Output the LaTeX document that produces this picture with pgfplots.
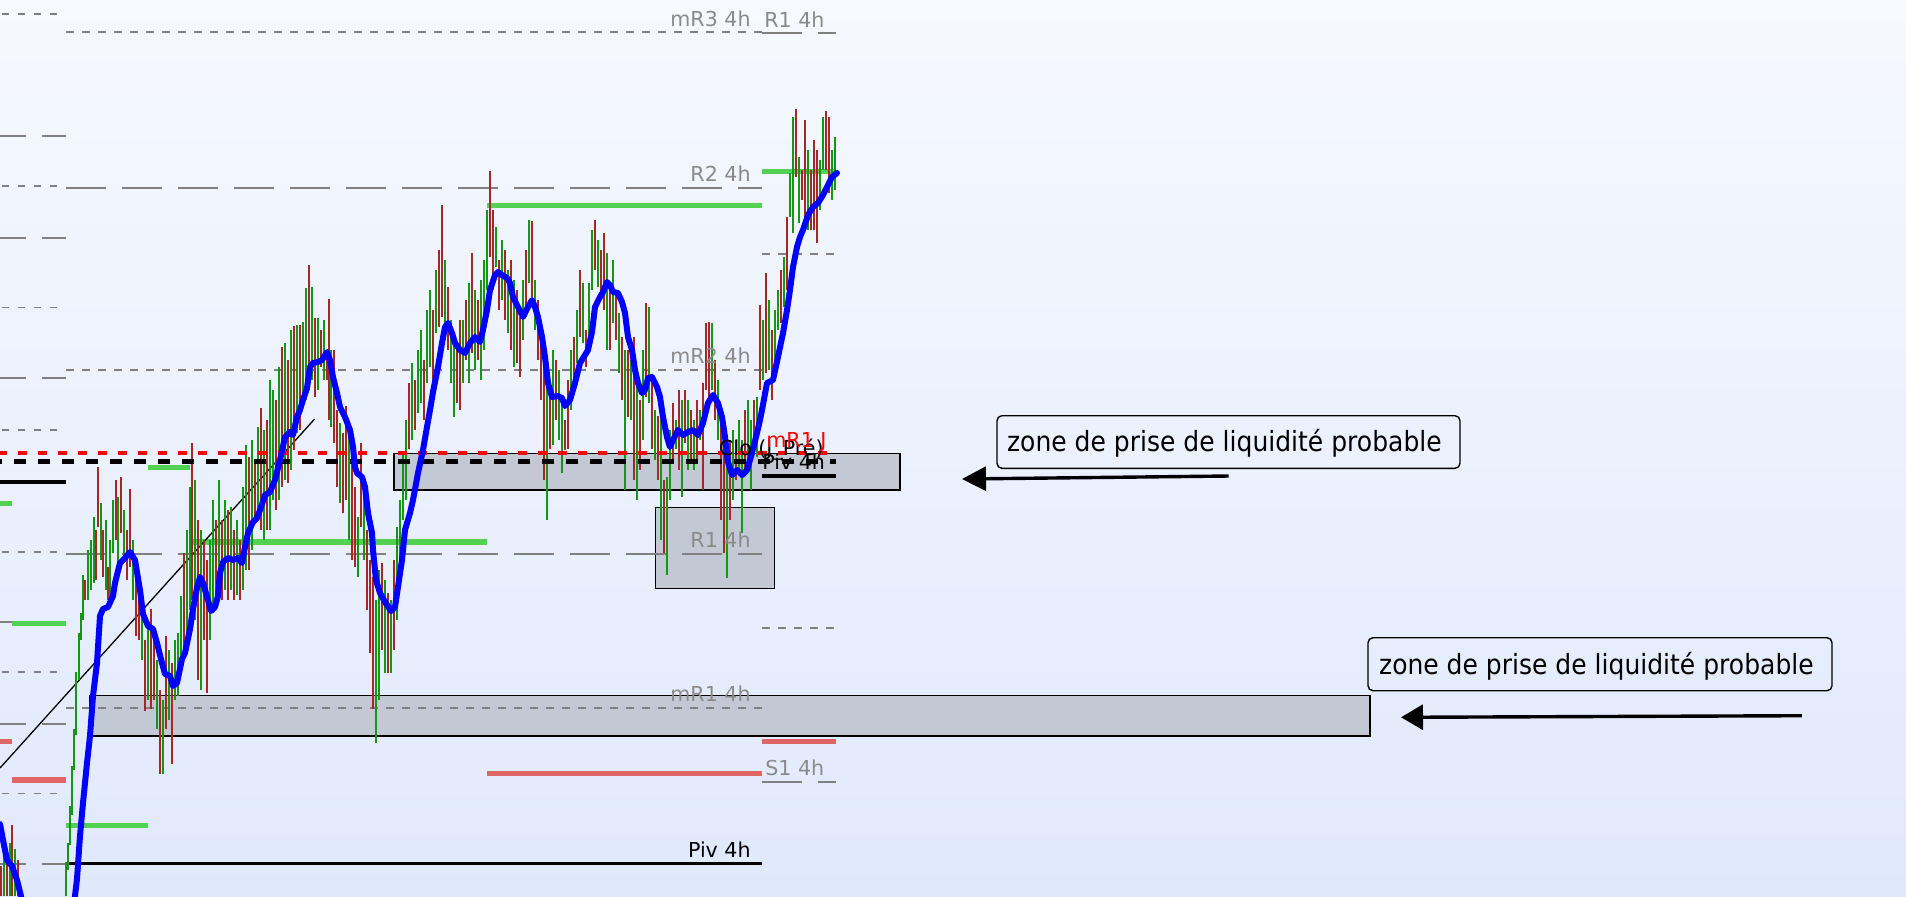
\documentclass[border=0pt]{standalone}
\usepackage{pgfplots}
\pgfplotsset{compat=1.18}
\usepackage{pgfplotstable}
\usepackage{fontspec}
\setmainfont{DejaVu Sans}
\newfontfamily\callfont[FakeStretch=0.9]{DejaVu Sans}
\usetikzlibrary{arrows.meta}
\definecolor{bgtop}{RGB}{246,249,254}
\definecolor{bgbot}{RGB}{224,233,252}
\definecolor{lvgray}{RGB}{128,128,128}
\definecolor{txgray}{RGB}{138,138,138}
\definecolor{lvgreen}{RGB}{82,210,82}
\definecolor{lvred}{RGB}{224,102,102}
\definecolor{cgreen}{RGB}{22,150,22}
\definecolor{cred}{RGB}{165,40,40}
\definecolor{boxgray}{RGB}{195,200,213}

\pgfplotstableread{
x t b
4 845 896
10 843 896
15 849 896
66 862 896
68 843 870
70 806 845
72 766 815
74 729 770
76 672 735
79 633 680
81 613 640
83 575 620
88 550 600
91 540 590
94 517 583
101 503 560
106 520 590
110 540 600
113 500 553
118 497 577
124 510 560
133 540 600
142 590 660
148 620 700
157 660 729
163 700 774
169 650 720
175 640 700
178 633 696
181 596 673
187 530 640
190 487 610
195 480 620
201 530 690
210 540 640
213 500 610
219 480 590
225 500 590
231 507 590
237 520 595
243 487 590
246 445 570
252 440 550
258 427 520
264 430 540
270 380 530
273 390 500
279 367 500
285 343 480
291 330 470
297 325 433
303 322 407
306 288 400
312 287 380
318 318 390
324 320 380
331 350 427
340 423 503
349 430 540
358 517 577
364 480 560
376 600 743
379 570 700
385 580 673
391 600 673
397 527 620
400 500 580
403 453 520
406 420 500
412 363 440
418 350 413
421 330 403
427 310 383
430 290 367
436 270 333
445 260 340
451 320 383
454 337 417
463 320 383
469 283 383
475 290 370
481 280 380
484 260 350
487 210 290
496 227 267
502 240 300
508 270 333
514 280 367
523 280 340
529 220 283
535 280 330
547 370 520
553 350 445
559 370 440
562 400 473
571 350 410
577 310 363
583 283 343
589 283 337
592 230 290
598 240 287
607 253 350
613 260 323
619 313 373
625 350 490
631 360 420
637 380 500
643 350 440
649 307 403
655 410 460
661 420 540
667 477 575
670 430 500
676 420 449
682 400 497
688 400 470
694 420 470
700 410 440
712 323 390
718 380 440
727 460 578
733 430 500
739 420 470
742 440 533
748 400 460
751 420 490
757 397 457
763 320 380
769 300 370
775 310 360
778 290 330
784 257 307
790 173 217
793 117 233
799 157 223
808 150 230
820 160 210
823 117 170
832 150 200
835 137 190
}\greentab

\pgfplotstableread{
x t b
1 866 896
7 850 896
12 825 896
18 860 896
85 580 600
96 530 580
98 467 527
103 530 577
108 567 600
116 480 540
121 477 533
127 530 580
130 489 567
136 560 636
139 580 640
145 640 711
151 609 709
154 640 700
160 690 774
166 636 729
172 663 764
184 553 660
192 443 600
198 520 680
204 540 640
207 560 693
216 520 600
222 520 600
228 510 600
234 530 600
240 540 600
249 457 570
255 460 517
261 408 530
267 420 530
276 400 510
282 347 487
288 360 483
294 326 450
300 325 430
309 265 390
315 318 397
321 330 367
327 350 380
329 299 420
334 350 443
337 410 487
343 433 513
346 406 500
352 460 560
355 487 567
361 443 527
367 530 610
370 560 653
373 577 709
382 563 650
388 593 673
394 560 650
409 383 449
415 380 430
424 360 420
433 310 380
439 250 327
442 205 317
448 287 350
457 350 403
460 320 410
466 300 360
472 253 353
478 300 360
490 171 257
493 210 290
499 260 310
505 250 320
511 260 350
517 290 363
520 317 377
526 250 317
532 221 297
538 300 360
541 330 400
544 350 480
550 393 449
556 360 420
565 420 450
568 380 449
574 337 383
580 270 337
586 330 367
595 220 270
601 250 300
604 233 310
610 290 350
616 290 340
622 337 400
628 350 417
634 337 480
640 400 470
646 303 397
652 380 449
658 416 480
664 480 553
673 403 460
679 390 470
685 390 443
691 410 460
697 400 460
703 383 490
706 323 390
709 322 397
715 360 420
721 420 520
724 440 553
730 440 520
736 440 480
745 410 470
754 400 450
760 305 390
766 273 373
772 330 400
781 270 323
787 217 290
796 109 177
802 170 200
805 120 227
811 170 230
814 140 230
817 150 243
826 111 170
829 117 193
}\redtab

\begin{document}
\begin{tikzpicture}
\begin{axis}[
  width=953pt, height=448pt, scale only axis,
  xmin=0, xmax=1906, ymin=0, ymax=896, y dir=reverse,
  hide axis, clip=true,
  lv/.style={forget plot, line cap=butt, mark=none},
]
\shade[top color=bgtop, bottom color=bgbot] (axis cs:0,0) rectangle (axis cs:1906,896);

% zone boxes
\addplot[lv, fill=boxgray, draw=black, line width=0.7pt] coordinates {(394,453.3) (900,453.3) (900,490) (394,490)} -- cycle;
\addplot[lv, fill=boxgray, draw=black, line width=0.7pt] coordinates {(655.3,507.7) (774.3,507.7) (774.3,588.3) (655.3,588.3)} -- cycle;
\addplot[lv, fill=boxgray, draw=black, line width=0.7pt] coordinates {(90,695.3) (1370,695.3) (1370,736) (90,736)} -- cycle;

% left column gray levels
\foreach \yy in {14,186,307.5,430,552,672,793.5} {
  \addplot[lv, lvgray, line width=0.9pt, dash pattern=on 3.5pt off 4.5pt] coordinates {(2,\yy) (58,\yy)};
}
\foreach \yy in {136,238,378,622,724,864} {
  \addplot[lv, lvgray, line width=0.9pt, dash pattern=on 13pt off 8pt] coordinates {(0,\yy) (66,\yy)};
}
% main gray levels
\foreach \yy in {31.7,370,708} {
  \addplot[lv, lvgray, line width=1pt, dash pattern=on 4pt off 4pt] coordinates {(66,\yy) (762,\yy)};
}
\foreach \yy in {187.7,554} {
  \addplot[lv, lvgray, line width=1pt, dash pattern=on 20pt off 8pt] coordinates {(66,\yy) (762,\yy)};
}
\foreach \yy in {254,628} {
  \addplot[lv, lvgray, line width=1pt, dash pattern=on 4pt off 4pt] coordinates {(762,\yy) (836,\yy)};
}
\foreach \yy in {33.3,781.7} {
  \addplot[lv, lvgray, line width=1pt, dash pattern=on 20pt off 8pt] coordinates {(762,\yy) (836,\yy)};
}

% green levels
\addplot[lv, lvgreen, line width=2.6pt] coordinates {(0,503.7) (12,503.7)};
\addplot[lv, lvgreen, line width=2.6pt] coordinates {(12,623.7) (66,623.7)};
\addplot[lv, lvgreen, line width=2.6pt] coordinates {(66,825.7) (148,825.7)};
\addplot[lv, lvgreen, line width=2.6pt] coordinates {(148,467.7) (190,467.7)};
\addplot[lv, lvgreen, line width=2.6pt] coordinates {(190,542) (487,542)};
\addplot[lv, lvgreen, line width=2.6pt] coordinates {(487,205.7) (762,205.7)};
\addplot[lv, lvgreen, line width=2.6pt] coordinates {(762,171.7) (836,171.7)};
% red levels
\addplot[lv, lvred, line width=2.6pt] coordinates {(0,741.7) (12,741.7)};
\addplot[lv, lvred, line width=2.6pt] coordinates {(12,780) (66,780)};
\addplot[lv, lvred, line width=2.6pt] coordinates {(487,773.3) (762,773.3)};
\addplot[lv, lvred, line width=2.6pt] coordinates {(762,741.7) (836,741.7)};
% black pivots
\addplot[lv, black, line width=1.8pt] coordinates {(0,481.7) (66,481.7)};
\addplot[lv, black, line width=1.7pt] coordinates {(66,863.7) (762,863.7)};
\addplot[lv, black, line width=1.7pt] coordinates {(762,476) (836,476)};

% trend line
\addplot[lv, black, line width=0.65pt] coordinates {(0,768) (314.6,419)};

% candles
\addplot[forget plot, draw=none, mark=none,
  error bars/.cd, y dir=plus, y explicit, error mark=none,
  error bar style={draw=cgreen, line width=1.35pt, solid, line cap=butt}]
  table[x=x, y=t, y error expr=\thisrow{b}-\thisrow{t}] {\greentab};
\addplot[forget plot, draw=none, mark=none,
  error bars/.cd, y dir=plus, y explicit, error mark=none,
  error bar style={draw=cred, line width=1.35pt, solid, line cap=butt}]
  table[x=x, y=t, y error expr=\thisrow{b}-\thisrow{t}] {\redtab};

% daily levels over everything
\addplot[lv, red, line width=2pt, dash pattern=on 4.5pt off 5.5pt, dash phase=0.8pt] coordinates {(0,453.3) (828,453.3)};
\addplot[lv, black, line width=2.5pt, dash pattern=on 6pt off 6pt, dash phase=5pt] coordinates {(0,461.7) (836,461.7)};

% moving average
\addplot[lv, blue, line width=3pt, line join=round, line cap=round] coordinates {
(0,824) (3,840) (7,860) (12,866) (17,880) (21,896) (23,910)};
\addplot[lv, blue, line width=3pt, line join=round, line cap=round] coordinates {
(74,910) (75,896) (77,879) (80,836) (83,803) (87,763) (90,736) (93,696) (97,663) (100,616)
(103,609) (108,607) (113,596) (115,583) (120,563) (125,558) (130,552) (135,560) (140,590)
(143,614) (148,626) (153,629) (157,643) (162,663) (165,674) (170,676) (173,686) (177,683)
(182,659) (185,653) (190,629) (193,609) (197,588) (200,577) (203,583) (208,600) (211,611)
(215,607) (218,596) (220,573) (223,562) (228,558) (233,560) (238,558) (242,563) (245,547)
(248,533) (253,522) (257,518) (260,510) (265,495) (270,492) (275,480) (280,460) (285,437)
(290,432) (293,435) (297,417) (300,410) (303,400) (307,388) (310,367) (313,363) (318,362)
(322,360) (327,352) (330,360) (333,377) (337,393) (340,407) (345,417) (350,430) (353,447)
(355,467) (357,473) (362,477) (365,487) (368,513) (372,533) (373,550) (376,580) (380,593)
(385,602) (391,611) (395,607) (398,587) (402,560) (405,530) (410,513) (413,500) (418,473)
(423,450) (427,427) (430,410) (433,392) (438,367) (442,343) (445,327) (448,323) (452,333)
(455,343) (460,350) (465,353) (470,343) (475,337) (480,342) (483,330) (487,310) (490,290)
(495,275) (498,272) (502,275) (507,278) (510,283) (513,297) (518,307) (523,317) (528,307)
(532,300) (535,307) (538,317) (542,337) (545,357) (548,383) (552,397) (558,396) (562,398)
(565,406) (570,400) (575,383) (580,363) (585,355) (588,350) (592,332) (595,307) (600,297)
(603,292) (607,282) (610,285) (613,292) (618,293) (622,302) (625,313) (628,337) (632,350)
(635,370) (638,383) (642,393) (645,390) (648,378) (652,377) (657,387) (660,397) (663,417)
(667,437) (670,447) (673,440) (678,430) (683,435) (688,432) (693,430) (698,435) (703,423)
(708,403) (713,395) (718,403) (722,417) (725,437) (728,462) (732,475) (737,470) (742,475)
(747,470) (752,453) (757,433) (760,420) (762,410) (767,383) (773,380) (778,357) (783,333)
(787,310) (790,290) (793,267) (797,247) (800,237) (803,230) (808,215) (813,207) (818,203)
(823,195) (827,187) (832,177) (837,173)};

% labels
\begin{scope}[every node/.style={inner sep=0pt, font=\fontsize{10.3}{12}\selectfont}]
\node[anchor=base east, text=txgray] at (axis cs:751,26.7) {mR3 4h};
\node[anchor=base west, text=txgray] at (axis cs:764,27.3) {R1 4h};
\node[anchor=base east, text=txgray] at (axis cs:751,181.7) {R2 4h};
\node[anchor=base east, text=txgray] at (axis cs:751,363.3) {mR2 4h};
\node[anchor=base east, text=txgray] at (axis cs:751,547.7) {R1 4h};
\node[anchor=base east, text=txgray] at (axis cs:751,701.7) {mR1 4h};
\node[anchor=base west, text=txgray] at (axis cs:765,775) {S1 4h};
\node[anchor=base east, text=black] at (axis cs:751,857.3) {Piv 4h};
\node[anchor=base west, text=black] at (axis cs:762,469) {Piv 4h};
\node[anchor=base east, text=black] at (axis cs:824,455) {Clo (J\_Pré)};
\node[anchor=base west, text=red] at (axis cs:766,447.5) {mR1 J};
\end{scope}

% callouts
\draw[black, line width=0.7pt, rounded corners=2.5pt] (axis cs:997,415.7) rectangle (axis cs:1460,468.3);
\node[anchor=base west, inner sep=0pt, font=\callfont\fontsize{13.9}{16}\selectfont] at (axis cs:1006.7,451.7) {zone de prise de liquidité probable};
\draw[black, line width=1.7pt, -{Triangle[length=12pt,width=12pt]}] (axis cs:1228.6,476) -- (axis cs:962,479);
\draw[black, line width=0.7pt, rounded corners=2.5pt] (axis cs:1368,637.7) rectangle (axis cs:1832,690.7);
\node[anchor=base west, inner sep=0pt, font=\callfont\fontsize{13.9}{16}\selectfont] at (axis cs:1378.7,674) {zone de prise de liquidité probable};
\draw[black, line width=1.7pt, -{Triangle[length=11pt,width=12.5pt]}] (axis cs:1801.8,715.7) -- (axis cs:1401,717.3);
\end{axis}
\end{tikzpicture}
\end{document}
